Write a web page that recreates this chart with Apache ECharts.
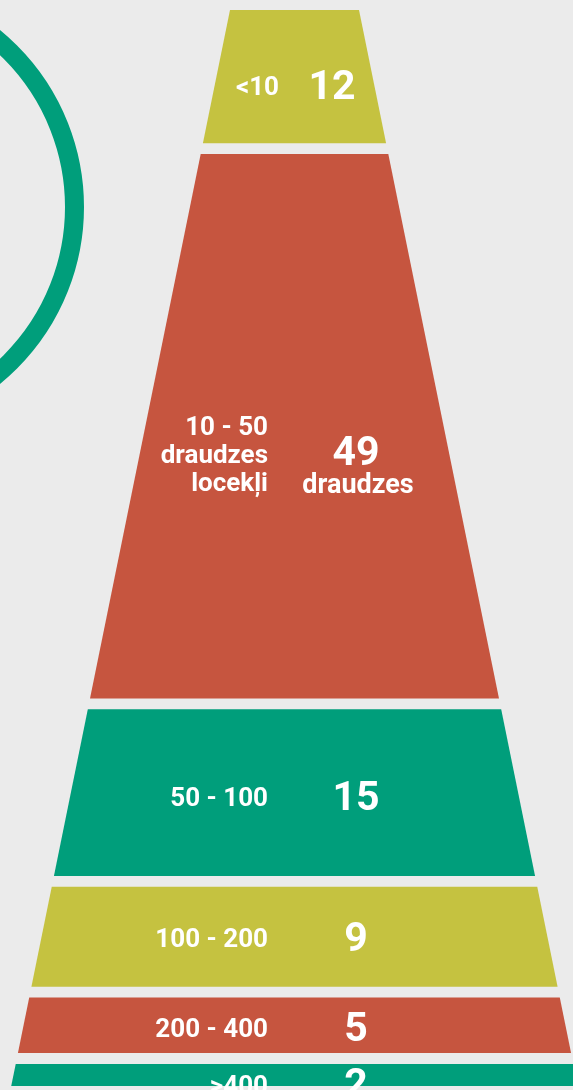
<!DOCTYPE html>
<html><head><meta charset="utf-8">
<script src="https://cdn.jsdelivr.net/npm/echarts@6/dist/echarts.min.js"></script>
<style>html,body{margin:0;padding:0;background:#ebebeb;overflow:hidden}#c{width:573px;height:1090px}</style>
</head><body><div id="c"></div>
<script>
// ---- data ----
const categories = ['<10', '10 - 50\ndraudzes\nlocekļi', '50 - 100', '100 - 200', '200 - 400', '>400'];
const values = [12, 49, 15, 9, 5, 2];
const valueLabels = ['12', '49', '15', '9', '5', '2'];
const unitLabels = ['', 'draudzes', '', '', '', ''];
const colors = ['#c5c240', '#c6553f', '#009e7b', '#c5c240', '#c6553f', '#009e7b'];

// ---- layout ----
const GAP = 0.97;         // gap between bands (value units)
const TOP_HALF = 64.5;    // half width at top (x units)
const SLOPE = 2.259;      // half width growth per value unit
const FONT = 'Roboto, "Noto Sans", sans-serif';

let acc = 0;
const bands = values.map((v, i) => { const s = acc; acc += v + GAP; return [s, s + v, i]; });

const labelDx = [-15.5, -26.5, -26.5, -26.5, -26.5, -26.5];
const numDx = [37.5, 61.5, 61.5, 61.5, 61.5, 61.5];
const dy = [12, 30, 7, 4, 5, 12];

function renderItem(params, api) {
  const s = api.value(0), e = api.value(1), i = api.value(2);
  const hw = v => TOP_HALF + SLOPE * v;
  const pts = [api.coord([-hw(s), s]), api.coord([hw(s), s]), api.coord([hw(e), e]), api.coord([-hw(e), e])];
  const mid = api.coord([0, (s + e) / 2]);
  const cy = mid[1] + dy[i];
  const children = [{
    type: 'polygon', shape: { points: pts }, style: { fill: colors[i] }
  }, {
    type: 'text', style: {
      text: categories[i], x: mid[0] + labelDx[i], y: cy, fill: '#fff',
      font: 'bold 26px ' + FONT, lineHeight: 28,
      align: 'right', verticalAlign: 'middle'
    }
  }, {
    type: 'text', style: {
      text: valueLabels[i], x: mid[0] + numDx[i], y: cy - (i === 1 ? 2 : 0), fill: '#fff',
      font: 'bold 41px ' + FONT, align: 'center', verticalAlign: 'middle'
    }
  }];
  if (unitLabels[i]) {
    children.push({
      type: 'text', style: {
        text: unitLabels[i], x: mid[0] + numDx[i] + 2, y: cy + 30, fill: '#fff',
        font: 'bold 27px ' + FONT, align: 'center', verticalAlign: 'middle'
      }
    });
  }
  return { type: 'group', children };
}

const chart = echarts.init(document.getElementById('c'), null, { renderer: 'canvas' });
chart.setOption({
  backgroundColor: '#ebebeb',
  animation: false,
  grid: { left: 0, right: 0, top: 10, bottom: 0 },
  xAxis: { type: 'value', min: -294.5, max: 278.5, show: false },
  yAxis: { type: 'value', inverse: true, min: 0, max: 97.2, show: false },
  graphic: [{
    type: 'circle', shape: { cx: -144.5, cy: 207, r: 219 },
    style: { fill: 'none', stroke: '#009e7b', lineWidth: 19 }, z: -1
  }],
  series: [{
    type: 'custom', renderItem, clip: false,
    encode: { x: -1, y: [0, 1] },
    data: bands
  }]
});
</script></body></html>
